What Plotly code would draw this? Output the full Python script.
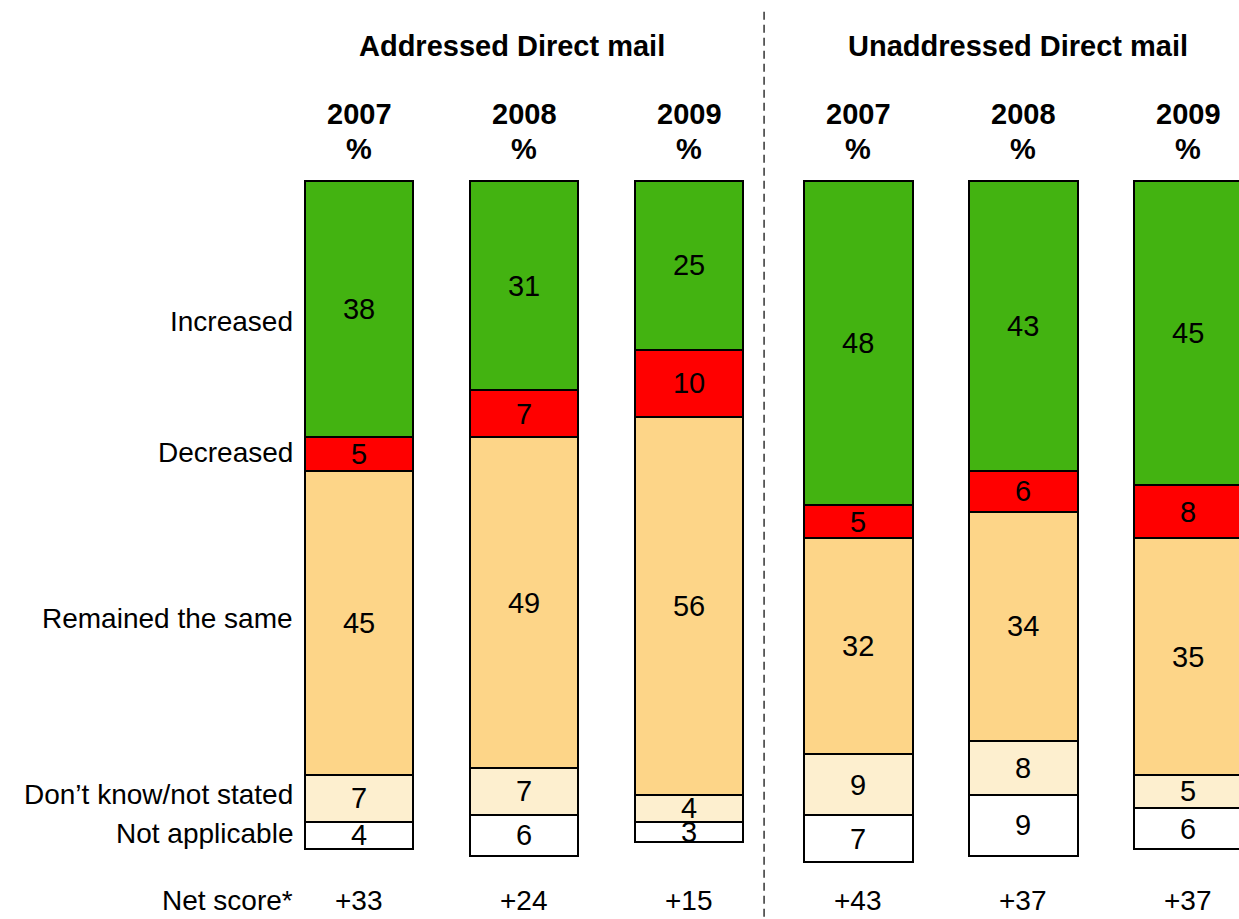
import plotly.graph_objects as go

# survey answers per bar (%), top segment first
groups = ["Addressed Direct mail", "Unaddressed Direct mail"]
years = ["2007", "2008", "2009", "2007", "2008", "2009"]
increased = [38, 31, 25, 48, 43, 45]
decreased = [5, 7, 10, 5, 6, 8]
same = [45, 49, 56, 32, 34, 35]
dont_know = [7, 7, 4, 9, 8, 5]
not_applicable = [4, 6, 3, 7, 9, 6]
net_score = [33, 24, 15, 43, 37, 37]

categories = ["Increased", "Decreased", "Remained the same",
              "Don\u2019t know/not stated", "Not applicable"]
series = [increased, decreased, same, dont_know, not_applicable]
colors = ["#43B311", "#FF0000", "#FDD588", "#FDEFCF", "#FFFFFF"]

FONT = "Liberation Sans, Arial, sans-serif"
W, H = 1239, 919
X0, Y0, XU, YU = 359, 181, 165, 6.745  # pixel of first bar centre / bar top, px per unit

# bar centres: three per group, small extra gap between groups
xpos = [i + 0.025 * (i // 3) for i in range(len(years))]

fig = go.Figure()
for name, vals, col in zip(categories, series, colors):
    fig.add_trace(go.Bar(
        x=xpos, y=vals, name=name, width=0.66,
        marker=dict(color=col, line=dict(color="black", width=2)),
        text=[str(v) for v in vals],
        textposition="inside", insidetextanchor="middle", textangle=0,
        insidetextfont=dict(family=FONT, size=29, color="black"),
        hoverinfo="skip",
    ))

ann = []
# group headers
header_shift = [-0.075, -0.03]
for g, name in enumerate(groups):
    ann.append(dict(x=sum(xpos[g*3:g*3+3]) / 3 + header_shift[g], y=-20,
                    text=f"<b>{name}</b>", font=dict(size=29)))
# year / % headers and net scores
net_y = 106.7
for x, yr, ns in zip(xpos, years, net_score):
    ann.append(dict(x=x, y=-10, text=f"<b>{yr}</b>", font=dict(size=29)))
    ann.append(dict(x=x, y=-4.8, text="<b>%</b>", font=dict(size=29)))
    ann.append(dict(x=x, y=net_y, text=f"+{ns}", font=dict(size=28)))

# row labels on the left
label_y = [20.9, 40.2, 64.8, 91.0, 96.7]
for name, ly in zip(categories, label_y):
    ann.append(dict(x=-0.39, y=ly, text=name, xanchor="right", font=dict(size=28)))
ann.append(dict(x=-0.39, y=net_y, text="Net score*", xanchor="right", font=dict(size=28)))

for a in ann:
    a.setdefault("xanchor", "center")
    a.update(xref="x", yref="y", yanchor="middle", showarrow=False)
    a["font"] = dict(family=FONT, color="black", **a["font"])

y_bottom = (H - Y0) / YU
fig.update_layout(
    barmode="stack",
    width=W, height=H,
    margin=dict(l=0, r=0, t=0, b=0),
    paper_bgcolor="white", plot_bgcolor="white",
    showlegend=False,
    annotations=ann,
    uniformtext=dict(minsize=29, mode="show"),
    xaxis=dict(range=[-X0 / XU, (W - X0) / XU], visible=False, fixedrange=True),
    yaxis=dict(range=[y_bottom, -Y0 / YU], visible=False, fixedrange=True),
    shapes=[dict(type="line", xref="x", yref="y", x0=2.455, x1=2.455, y0=-25.1, y1=y_bottom,
                 line=dict(color="#333333", width=1.5, dash="8px,5px"))],
)

# drop the default page margin so the figure fills the window
fig.write_html("out.html", config=dict(displayModeBar=False),
               post_script="document.body.style.margin='0';document.body.style.overflow='hidden';")
